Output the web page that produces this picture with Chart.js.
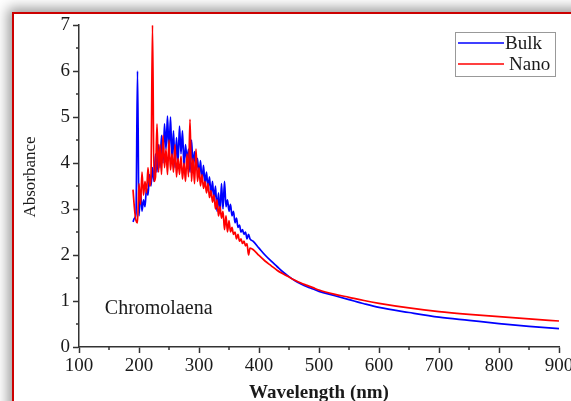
<!DOCTYPE html>
<html>
<head>
<meta charset="utf-8">
<script src="https://cdn.jsdelivr.net/npm/chart.js@4.4.0/dist/chart.umd.min.js"></script>
<style>
  html, body { margin: 0; padding: 0; width: 571px; height: 401px; overflow: hidden; background: #fff; }
  #frame {
    position: absolute; left: 12px; top: 12px; width: 640px; height: 460px;
    border: 2px solid #cc0000; background: #fff;
    box-shadow: 0 0 12px 4px rgba(0,0,0,0.4);
  }
  #c { position: absolute; left: 0; top: 0; }
</style>
</head>
<body>
<div id="frame"></div>
<canvas id="c" width="600" height="420"></canvas>
<script>
// ── DATA ──────────────────────────────────────────────────────
const wavelength = [
  190, 192.5, 195, 197.5, 200, 202.5, 205, 207.5, 210, 212.5,
  215, 217.5, 220, 222.5, 225, 227.5, 230, 232.5, 235, 237.5,
  240, 242.5, 245, 247.5, 250, 252.5, 255, 257.5, 260, 262.5,
  265, 267.5, 270, 272.5, 275, 277.5, 280, 282.5, 285, 287.5,
  290, 292.5, 295, 297.5, 300, 302.5, 305, 307.5, 310, 312.5,
  315, 317.5, 320, 322.5, 325, 327.5, 330, 332.5, 335, 337.5,
  340, 342.5, 345, 347.5, 350, 352.5, 355, 357.5, 360, 362.5,
  365, 367.5, 370, 372.5, 375, 377.5, 380, 382.5, 385,
  390, 400, 410, 420, 430, 440, 450, 460, 470, 480, 490, 500,
  525, 550, 575, 600, 650, 700, 750, 800, 850, 900
];

const bulkAbs = [
  2.72, 2.8, 2.9, 6.0, 2.85, 3.4, 2.95, 3.2, 3.05, 3.45,
  3.3, 3.75, 3.5, 3.9, 3.6, 4.2, 3.8, 4.4, 3.9, 4.6,
  4.0, 4.85, 4.3, 5.02, 4.2, 5.0, 4.1, 4.7, 3.9, 4.55,
  4.0, 4.8, 4.2, 4.7, 3.9, 4.4, 4.05, 4.3, 3.8, 4.5,
  3.95, 4.25, 3.85, 4.1, 3.7, 4.05, 3.6, 3.95, 3.55, 3.8,
  3.45, 3.7, 3.3, 3.6, 3.2, 3.5, 2.95, 3.35, 2.9, 3.55,
  3.0, 3.6, 3.05, 3.2, 2.95, 3.1, 2.85, 2.95, 2.7, 2.8,
  2.6, 2.65, 2.5, 2.55, 2.45, 2.5, 2.35, 2.45, 2.35,
  2.3, 2.15, 2.0, 1.87, 1.75, 1.63, 1.53, 1.44, 1.37, 1.31, 1.26, 1.21,
  1.12, 1.03, 0.94, 0.86, 0.75, 0.65, 0.58, 0.51, 0.45, 0.40
];

const nanoAbs = [
  3.42, 3.0, 2.75, 2.7, 3.55, 3.1, 3.8, 3.3, 3.6, 3.35,
  3.9, 3.5, 3.75, 7.0, 3.6, 3.7, 4.85, 3.8, 4.4, 3.75,
  4.6, 3.9, 4.3, 3.75, 4.5, 3.85, 4.2, 3.8, 4.4, 3.7,
  4.1, 3.75, 4.15, 3.65, 4.0, 3.6, 4.2, 3.7, 4.95, 3.6,
  4.1, 3.55, 4.3, 3.6, 3.9, 3.5, 3.75, 3.45, 3.6, 3.35,
  3.55, 3.25, 3.4, 3.15, 3.3, 3.0, 3.2, 2.85, 3.05, 2.8,
  2.95, 2.55, 2.85, 2.5, 2.75, 2.5, 2.6, 2.45, 2.5, 2.35,
  2.45, 2.3, 2.35, 2.25, 2.3, 2.2, 2.25, 2.0, 2.15,
  2.12, 1.99, 1.87, 1.77, 1.67, 1.59, 1.52, 1.45, 1.39, 1.34, 1.29, 1.24,
  1.15, 1.08, 1.01, 0.95, 0.85, 0.77, 0.71, 0.66, 0.61, 0.565
];

const seriesNames = ['Bulk', 'Nano'];
const seriesColors = ['#0000ff', '#ff0000'];
const xTitle = 'Wavelength (nm)';
const yTitle = 'Absorbance';
const sampleName = 'Chromolaena';

// ── STYLE ─────────────────────────────────────────────────────
const SERIF = '"Liberation Serif", "Times New Roman", serif';
const AXIS = '#333333';
const TEXT = '#1a1a1a';

// minor ticks, titles, annotation and legend drawn on top
const extras = {
  id: 'extras',
  afterDraw(chart) {
    const { ctx, chartArea: a, scales: { x, y } } = chart;
    ctx.save();
    ctx.strokeStyle = AXIS;
    ctx.lineWidth = 1.5;
    ctx.beginPath();
    x.ticks.forEach(t => {
      if (t.value % 100 !== 0) {
        const px = x.getPixelForValue(t.value);
        ctx.moveTo(px, a.bottom); ctx.lineTo(px, a.bottom + 3);
      }
    });
    y.ticks.forEach(t => {
      if (t.value % 1 !== 0) {
        const py = y.getPixelForValue(t.value);
        ctx.moveTo(a.left, py); ctx.lineTo(a.left - 3, py);
      }
    });
    ctx.stroke();

    // axis titles
    ctx.fillStyle = TEXT;
    ctx.textAlign = 'center';
    ctx.textBaseline = 'alphabetic';
    ctx.font = 'bold 19px ' + SERIF;
    ctx.fillText(xTitle, (a.left + a.right) / 2, 398);
    ctx.save();
    ctx.translate(35, 177);
    ctx.rotate(-Math.PI / 2);
    ctx.font = '17px ' + SERIF;
    ctx.fillText(yTitle, 0, 0);
    ctx.restore();

    // sample label
    ctx.font = '20px ' + SERIF;
    ctx.textAlign = 'left';
    ctx.textBaseline = 'middle';
    ctx.fillText(sampleName, x.getPixelForValue(143), y.getPixelForValue(0.84));

    // legend
    const bx = a.right - 104, by = a.top + 7;
    ctx.strokeStyle = '#999';
    ctx.lineWidth = 1;
    ctx.strokeRect(bx + 0.5, by + 0.5, 100, 44);
    ctx.font = '19px ' + SERIF;
    chart.data.datasets.forEach((ds, i) => {
      const ry = by + 11 + i * 21;
      ctx.strokeStyle = ds.borderColor;
      ctx.lineWidth = 1.5;
      ctx.beginPath();
      ctx.moveTo(bx + 3, ry); ctx.lineTo(bx + 49, ry);
      ctx.stroke();
      ctx.fillStyle = TEXT;
      ctx.fillText(ds.label, bx + 50 + i * 4, ry + 1);
    });
    ctx.restore();
  }
};

const points = vals => wavelength.map((w, i) => ({ x: w, y: vals[i] }));

new Chart(document.getElementById('c'), {
  type: 'line',
  data: {
    datasets: [
      { label: seriesNames[0], data: points(bulkAbs), borderColor: seriesColors[0], order: 1 },
      { label: seriesNames[1], data: points(nanoAbs), borderColor: seriesColors[1], order: 0 }
    ]
  },
  options: {
    responsive: false,
    animation: false,
    layout: { padding: { top: 25, right: 41, bottom: 0, left: 0 } },
    elements: {
      point: { radius: 0 },
      line: { borderWidth: 1.7, cubicInterpolationMode: 'monotone', fill: false }
    },
    plugins: { legend: { display: false }, tooltip: { enabled: false } },
    scales: {
      x: {
        type: 'linear', min: 100, max: 900,
        afterFit: s => { s.height = 73; },
        border: { display: true, color: AXIS, width: 1.5 },
        grid: {
          drawOnChartArea: false, drawTicks: true, tickLength: 6, tickWidth: 1.5,
          tickColor: c => (c.tick && c.tick.value % 100 === 0 ? AXIS : 'rgba(0,0,0,0)')
        },
        ticks: {
          stepSize: 50, autoSkip: false, maxRotation: 0, padding: 2,
          color: TEXT, font: { family: SERIF, size: 19 },
          callback: v => (v % 100 === 0 ? v : '')
        }
      },
      y: {
        min: 0, max: 7,
        afterFit: s => { s.width = 79; },
        border: { display: true, color: AXIS, width: 1.5 },
        grid: {
          drawOnChartArea: false, drawTicks: true, tickLength: 6, tickWidth: 1.5,
          tickColor: c => (c.tick && c.tick.value % 1 === 0 ? AXIS : 'rgba(0,0,0,0)')
        },
        ticks: {
          stepSize: 0.5, autoSkip: false, padding: 3,
          color: TEXT, font: { family: SERIF, size: 19 },
          callback: v => (v % 1 === 0 ? v : '')
        }
      }
    }
  },
  plugins: [extras]
});
</script>
</body>
</html>
